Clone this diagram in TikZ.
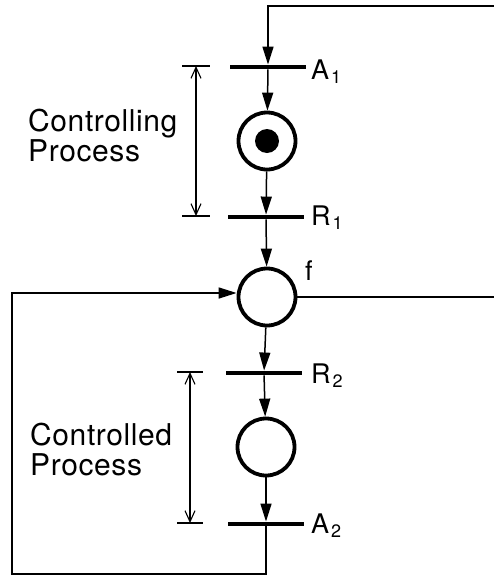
\documentclass[tikz,border=0pt]{standalone}
\usepackage{fontspec}
\setmainfont{TeX Gyre Heros}
\newfontfamily\labfont[LetterSpace=2]{TeX Gyre Heros}
\usetikzlibrary{arrows.meta}
\newcommand\sbs[1]{\kern2pt\raisebox{-4pt}{\fontsize{18}{18}\selectfont #1}}
\begin{document}
\begin{tikzpicture}[x=1pt,y=-1pt,
 trans/.style={fill=black,draw=none,rectangle,minimum width=76pt,minimum height=4.5pt,inner sep=0pt},
 place/.style={circle,draw,line width=3.8pt,minimum size=57pt,inner sep=0pt},
 arc/.style={line width=1.5pt,-{Triangle[length=18pt,width=11pt]}},
 wire/.style={line width=1.5pt},
 dim/.style={line width=1.1pt,{Straight Barb[length=11pt,width=10pt]}-{Straight Barb[length=11pt,width=10pt]}},
 tick/.style={line width=1.1pt},
 lbl/.style={font=\fontsize{27}{27}\selectfont, anchor=base west, inner sep=0pt},
 txt/.style={font=\labfont\fontsize{30}{30}\selectfont, align=left, anchor=west, inner sep=0pt}]
\useasboundingbox (0,0) rectangle (494,579);

% transitions
\node[trans] (A1) at (268,67) {};
\node[trans] (R1) at (266,217) {};
\node[trans] (R2) at (264,373) {};
\node[trans] (A2) at (266,524) {};
% places
\node[place] (P1) at (267,141) {};
\node[fill=black,circle,minimum size=24pt,inner sep=0pt] (tok) at (267,141) {};
\node[place] (f) at (267,297) {};
\node[place] (P2) at (266,447) {};

% labels
\node[lbl] (lA1) at (311,79) {A\sbs{1}};
\node[lbl] (lR1) at (311,225) {R\sbs{1}};
\node[lbl] (lf) at (305,280) {f};
\node[lbl] (lR2) at (311,383) {R\sbs{2}};
\node[lbl] (lA2) at (311,533) {A\sbs{2}};

% free ends
\coordinate (topR) at (494,6);
\coordinate (midR) at (494,297);
\coordinate (botL) at (12,574);
\coordinate (leftT) at (12,293);

% arcs
\draw[arc] (topR) -| (A1.north);
\draw[arc] (A1) -- (P1);
\draw[arc] (P1) -- (R1);
\draw[arc] (R1) -- (f);
\draw[arc] (f) -- (R2);
\draw[arc] (R2) -- (P2);
\draw[arc] (P2) -- (A2);
\draw[wire] (f) -- (midR);
\draw[arc] (A2.center) |- (botL) -- (leftT) -- (f.west |- leftT);

% dimension markers
\coordinate (d1t) at (196,66);
\coordinate (d1b) at (196,216);
\coordinate (d2t) at (190,372);
\coordinate (d2b) at (190,523);
\draw[tick] ([xshift=-14pt]d1t) -- ([xshift=14pt]d1t);
\draw[tick] ([xshift=-14pt]d1b) -- ([xshift=14pt]d1b);
\draw[tick] ([xshift=-13pt]d2t) -- ([xshift=13pt]d2t);
\draw[tick] ([xshift=-13pt]d2b) -- ([xshift=13pt]d2b);
\draw[dim] (d1t) -- (d1b);
\draw[dim] (d2t) -- (d2b);

\node[txt] (t1) at (28,136) {\baselineskip=29pt Controlling\\Process};
\node[txt] (t2) at (30,450) {\baselineskip=35pt Controlled\\Process};
\end{tikzpicture}
\end{document}
